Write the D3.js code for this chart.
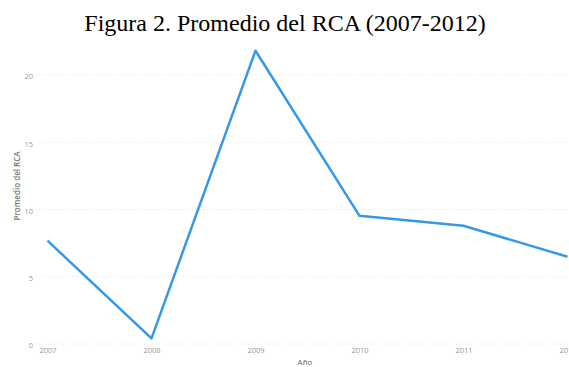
<!DOCTYPE html>
<html>
<head>
<meta charset="utf-8">
<script src="https://cdn.jsdelivr.net/npm/d3@7"></script>
<style>
  body { margin: 0; background: #fff; overflow: hidden; }
  svg { display: block; }
</style>
</head>
<body>
<svg id="chart" width="569" height="367"></svg>
<script>
const years = [2007, 2008, 2009, 2010, 2011, 2012];
const rca = [7.68, 0.42, 21.8, 9.53, 8.79, 6.49];
const yTicks = [0, 5, 10, 15, 20];

const svg = d3.select('#chart');

// title, Word-style caption above the chart
svg.append('text')
  .attr('x', 285)
  .attr('y', 31)
  .attr('text-anchor', 'middle')
  .style('font-family', '"Liberation Serif", "Times New Roman", serif')
  .style('font-size', '24px')
  .style('fill', '#000')
  .text('Figura 2. Promedio del RCA (2007-2012)');

const x = d3.scalePoint()
  .domain(years)
  .range([47.5, 567.5]);

const y = d3.scaleLinear()
  .domain([0, 20])
  .range([344, 75]);

// gridlines
svg.append('g')
  .selectAll('line')
  .data(yTicks)
  .join('line')
  .attr('x1', 36)
  .attr('x2', 569)
  .attr('y1', d => y(d))
  .attr('y2', d => y(d))
  .attr('stroke', '#e2e2e2')
  .attr('stroke-width', 1)
  .attr('stroke-dasharray', '1,2');

// y axis labels
const yAxis = svg.append('g')
  .attr('transform', 'translate(36,0)')
  .call(d3.axisLeft(y).tickValues(yTicks).tickSize(0).tickPadding(3));
yAxis.select('.domain').remove();
yAxis.selectAll('text')
  .style('font-family', '"Open Sans", "Noto Sans", sans-serif')
  .style('font-size', '7.5px')
  .style('fill', '#999')
  .attr('dy', '0.5em');

// x axis labels
const xAxis = svg.append('g')
  .attr('transform', 'translate(0,344)')
  .call(d3.axisBottom(x).tickSize(0).tickPadding(4));
xAxis.select('.domain').remove();
xAxis.selectAll('text')
  .style('font-family', '"Open Sans", "Noto Sans", sans-serif')
  .style('font-size', '7.5px')
  .style('fill', '#999');

// axis titles
svg.append('text')
  .attr('x', 305)
  .attr('y', 365)
  .attr('text-anchor', 'middle')
  .style('font-family', '"Open Sans", "Noto Sans", sans-serif')
  .style('font-size', '8px')
  .style('fill', '#666')
  .text('Año');

svg.append('text')
  .attr('transform', 'translate(20,186) rotate(-90)')
  .attr('text-anchor', 'middle')
  .style('font-family', '"Open Sans", "Noto Sans", sans-serif')
  .style('font-size', '8px')
  .style('font-weight', '600')
  .style('fill', '#777')
  .text('Promedio del RCA');

// the series
const line = d3.line()
  .x((d, i) => x(years[i]))
  .y(d => y(d));

svg.append('path')
  .datum(rca)
  .attr('d', line)
  .attr('fill', 'none')
  .attr('stroke', '#3599e9')
  .attr('stroke-width', 2.5)
  .attr('stroke-linejoin', 'round');
</script>
</body>
</html>
